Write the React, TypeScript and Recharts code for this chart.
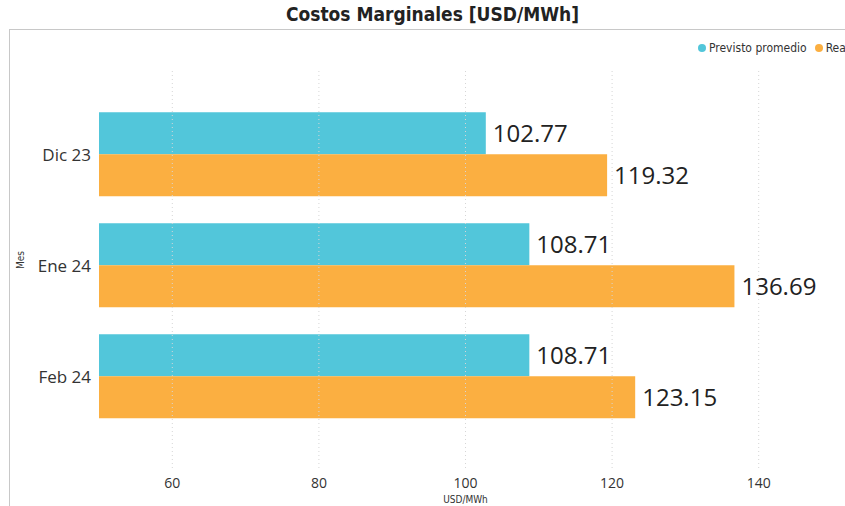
import * as React from "react";
import { BarChart, Bar, XAxis, YAxis, ReferenceLine, LabelList } from "recharts";

const months = ["Dic 23", "Ene 24", "Feb 24"];
const previsto = [102.77, 108.71, 108.71];
const real = [119.32, 136.69, 123.15];
const xTicks = [60, 80, 100, 120, 140];

const CYAN = "#52C6DA";
const ORANGE = "#FBAF41";
const FONT = "'Open Sans', 'Noto Sans', sans-serif";
const NARROW = "'DejaVu Sans Condensed', 'Liberation Sans Narrow', 'Noto Sans', sans-serif";

const data = months.map((m, i) => ({ mes: m, previsto: previsto[i], real: real[i] }));

export default function App() {
  return (
    <div
      style={{
        position: "absolute",
        left: 0,
        top: 0,
        width: 845,
        height: 506,
        overflow: "hidden",
        background: "#fff",
        fontFamily: FONT,
      }}
    >
      <div
        style={{
          position: "absolute",
          left: 0,
          top: 3,
          width: 865,
          textAlign: "center",
          fontFamily: NARROW,
          fontWeight: "bold",
          fontSize: 19,
          color: "#222",
        }}
      >
        Costos Marginales [USD/MWh]
      </div>
      <div
        style={{
          position: "absolute",
          left: 9,
          top: 29,
          width: 900,
          height: 600,
          border: "1px solid #c8c8c8",
          boxSizing: "border-box",
        }}
      />
      {/* legend runs off the right edge, as in the original */}
      <div
        style={{
          position: "absolute",
          left: 698,
          top: 41,
          whiteSpace: "nowrap",
          fontFamily: NARROW,
          fontSize: 12,
          color: "#333",
          display: "flex",
          alignItems: "center",
        }}
      >
        <span style={{ display: "inline-block", width: 8, height: 8, borderRadius: 4, background: CYAN, marginRight: 3 }} />
        <span>Previsto promedio</span>
        <span style={{ display: "inline-block", width: 8, height: 8, borderRadius: 4, background: ORANGE, margin: "0 3px 0 8px" }} />
        <span>Real</span>
      </div>
      <div style={{ position: "absolute", left: 0, top: 0 }}>
        <BarChart
          width={845}
          height={506}
          data={data}
          layout="vertical"
          margin={{ top: 70, right: 13, bottom: 8, left: 0 }}
          barCategoryGap="12%"
          barGap={0}
        >
          {xTicks.map((t) => (
            <ReferenceLine key={t} x={t} stroke="#d6d6d6" strokeDasharray="1 3" />
          ))}
          <XAxis
            type="number"
            domain={[50, 150]}
            ticks={xTicks}
            axisLine={false}
            tickLine={false}
            tick={{ fontSize: 14, fill: "#333", fontFamily: FONT }}
            tickMargin={4}
            label={{ value: "USD/MWh", position: "insideBottom", offset: -5, fontSize: 10, fill: "#333", fontFamily: NARROW }}
          />
          <YAxis
            type="category"
            dataKey="mes"
            width={99}
            padding={{ top: 29, bottom: 36 }}
            axisLine={false}
            tickLine={false}
            tickSize={6}
            tickMargin={2}
            tick={{ fontSize: 17, fill: "#333", fontFamily: FONT }}
            label={{ value: "Mes", angle: -90, position: "insideLeft", offset: 20, fontSize: 10, fill: "#333", fontFamily: NARROW }}
          />
          <Bar dataKey="previsto" fill={CYAN} isAnimationActive={false}>
            <LabelList dataKey="previsto" position="right" offset={7} fill="#222" fontSize={24} fontFamily={FONT} formatter={(v: number) => v.toFixed(2)} />
          </Bar>
          <Bar dataKey="real" fill={ORANGE} isAnimationActive={false}>
            <LabelList dataKey="real" position="right" offset={7} fill="#222" fontSize={24} fontFamily={FONT} formatter={(v: number) => v.toFixed(2)} />
          </Bar>
        </BarChart>
      </div>
    </div>
  );
}
